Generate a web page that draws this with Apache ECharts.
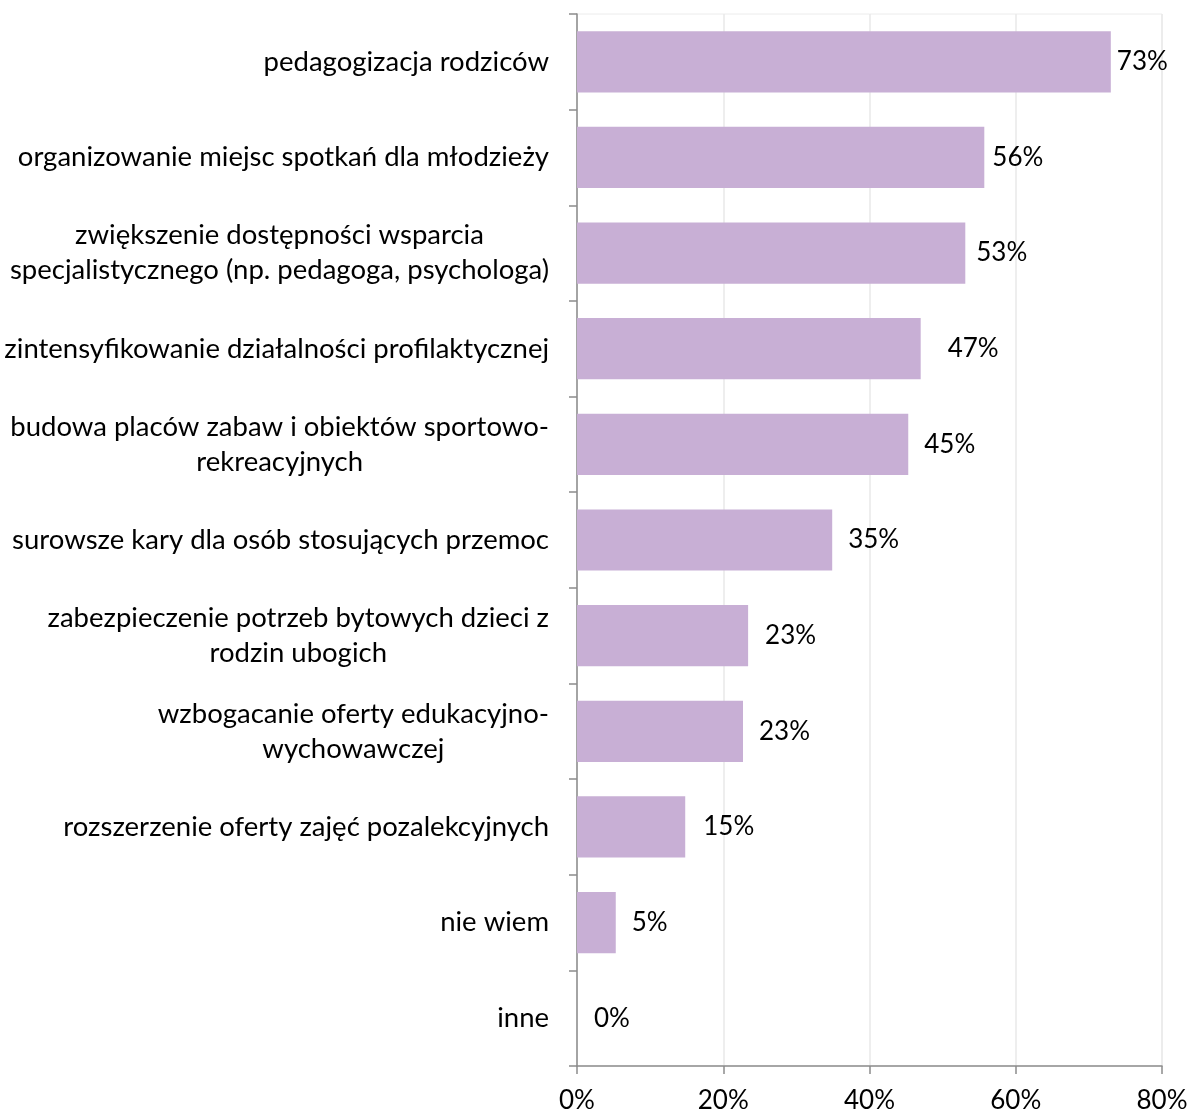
<!DOCTYPE html>
<html>
<head>
<meta charset="utf-8">
<script src="https://cdn.jsdelivr.net/npm/echarts@6/dist/echarts.min.js"></script>
<style>
html,body{margin:0;padding:0;background:#fff;}
#chart{width:1192px;height:1115px;}
</style>
</head>
<body>
<div id="chart"></div>
<script>
const categories = [
  "pedagogizacja rodziców",
  "organizowanie miejsc spotkań dla młodzieży",
  "zwiększenie dostępności wsparcia\nspecjalistycznego (np. pedagoga, psychologa)",
  "zintensyfikowanie działalności profilaktycznej",
  "budowa placów zabaw i obiektów sportowo-\nrekreacyjnych",
  "surowsze kary dla osób stosujących przemoc",
  "zabezpieczenie potrzeb bytowych dzieci z\nrodzin ubogich",
  "wzbogacanie oferty edukacyjno-\nwychowawczej",
  "rozszerzenie oferty zajęć pozalekcyjnych",
  "nie wiem",
  "inne"
];
const values = [73.0, 55.7, 53.1, 47.0, 45.3, 34.9, 23.4, 22.7, 14.8, 5.3, 0];
const xTicks = [0, 20, 40, 60, 80];
const labelGaps = [6, 8, 11, 27, 16, 16, 17, 16, 18, 16, 17];

const FONT = 'Lato';
const FS = 26;
const CAT_FS = 27.5;

const chart = echarts.init(document.getElementById('chart'));
chart.setOption({
  animation: false,
  backgroundColor: '#ffffff',
  grid: { left: 577, right: 30, top: 14, bottom: 49, show: true, borderColor: '#ececec', borderWidth: 1 },
  xAxis: {
    type: 'value',
    min: xTicks[0],
    max: xTicks[xTicks.length - 1],
    interval: 20,
    axisLine: { show: true, lineStyle: { color: '#8c8c8c', width: 1.5 } },
    axisTick: { show: true, length: 8, lineStyle: { color: '#8c8c8c', width: 1.5 } },
    splitLine: { show: true, lineStyle: { color: '#e8e8e8', width: 1.5 } },
    axisLabel: { margin: 22, color: '#000', fontFamily: FONT, fontSize: FS, formatter: v => v + '%' }
  },
  yAxis: {
    type: 'category',
    inverse: true,
    data: categories,
    axisLine: { show: true, lineStyle: { color: '#8c8c8c', width: 1.5 } },
    axisTick: { show: true, length: 8, alignWithLabel: false, lineStyle: { color: '#8c8c8c', width: 1.5 } },
    axisLabel: {
      margin: 28, color: '#000', fontFamily: FONT, fontSize: CAT_FS, lineHeight: 35, interval: 0,
      formatter: v => v.split('\n').map(s => '{c|' + s + '}').join('\n'),
      rich: { c: { align: 'center', color: '#000', fontFamily: FONT, fontSize: CAT_FS, lineHeight: 35 } }
    }
  },
  series: [{
    type: 'bar',
    barWidth: '64%',
    data: values.map((v, i) => ({ value: v, label: { distance: labelGaps[i] } })),
    itemStyle: { color: '#C8AFD5' },
    label: {
      show: true, position: 'right', color: '#000', fontFamily: FONT, fontSize: FS,
      formatter: p => Math.round(p.value) + '%'
    }
  }]
});
</script>
</body>
</html>
